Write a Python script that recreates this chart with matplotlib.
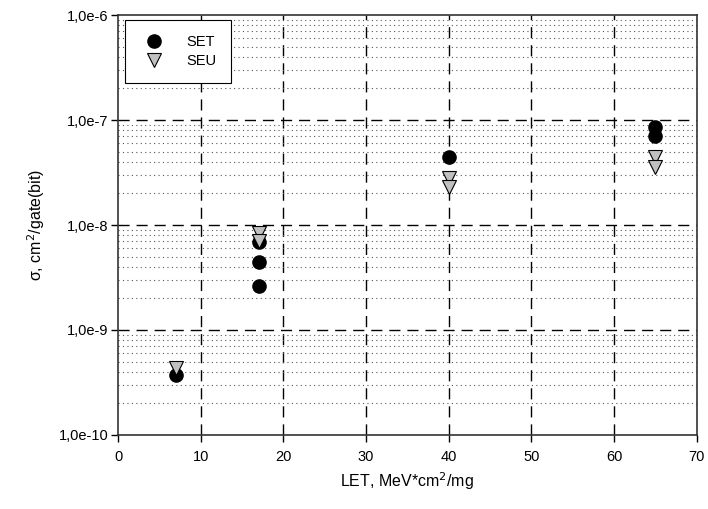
import math
import matplotlib
matplotlib.use('Agg')
import matplotlib.pyplot as plt
from matplotlib.ticker import FixedLocator, FuncFormatter, LogLocator, NullFormatter

plt.rcParams['font.family'] = ['Liberation Sans', 'DejaVu Sans']

# data
set_let = [7, 17, 17, 17, 40, 65, 65]
set_sigma = [3.7e-10, 6.9e-9, 4.4e-9, 2.6e-9, 4.4e-8, 8.6e-8, 7.1e-8]
seu_let = [7, 17, 17, 40, 40, 65, 65]
seu_sigma = [4.3e-10, 8.3e-9, 7.0e-9, 2.8e-8, 2.3e-8, 4.4e-8, 3.6e-8]

fig = plt.figure(figsize=(7.08, 5.09), dpi=100)
ax = fig.add_axes([0.1667, 0.1454, 0.8173, 0.8251])

ax.set_yscale('log')
ax.set_xlim(0, 70)
ax.set_ylim(1e-10, 1e-6)

ax.set_xticks(range(0, 71, 10))
ax.yaxis.set_major_locator(FixedLocator([1e-10, 1e-9, 1e-8, 1e-7, 1e-6]))
ax.yaxis.set_minor_locator(LogLocator(base=10, subs=range(2, 10), numticks=20))
ax.yaxis.set_minor_formatter(NullFormatter())
ax.yaxis.set_major_formatter(FuncFormatter(lambda v, p: '1,0e%d' % round(math.log10(v))))

# grid: dashed majors, dotted minors
for xv in range(10, 70, 10):
    ax.axvline(xv, color='black', ls=(0, (8, 5)), lw=1.0, zorder=1)
for e in [-9, -8, -7]:
    ax.axhline(10.0 ** e, color='black', ls=(0, (8, 5)), lw=1.0, zorder=1)
ax.grid(True, which='minor', axis='y', color='#555555', ls=(0, (1, 3)), lw=0.8, zorder=0)

ax.plot(set_let, set_sigma, 'o', color='black', markersize=9.5, ls='none', label='SET', zorder=3)
ax.plot(seu_let, seu_sigma, 'v', markerfacecolor='#c0c0c0', markeredgecolor='black',
        markeredgewidth=0.8, markersize=10.5, ls='none', label='SEU', zorder=4)

for s in ax.spines.values():
    s.set_color('#333333')
    s.set_linewidth(1.2)

ax.tick_params(axis='both', which='major', direction='out', length=5, width=1, labelsize=10.5, colors='black')
ax.tick_params(axis='y', which='minor', length=0)
ax.tick_params(axis='y', pad=2)
ax.tick_params(axis='x', pad=6)

ax.set_xlabel('LET, MeV*cm$^2$/mg', fontsize=11.5, labelpad=4)
ax.set_ylabel('σ, cm$^2$/gate(bit)', fontsize=11.5, labelpad=8)

leg = ax.legend(loc='upper left', bbox_to_anchor=(0.012, 0.988), borderaxespad=0, fontsize=10.5,
                frameon=True, fancybox=False, edgecolor='black', framealpha=1, borderpad=1.0,
                handletextpad=1.2, labelspacing=0.4)
leg.get_frame().set_linewidth(0.8)

fig.savefig('out.png', dpi=100)
